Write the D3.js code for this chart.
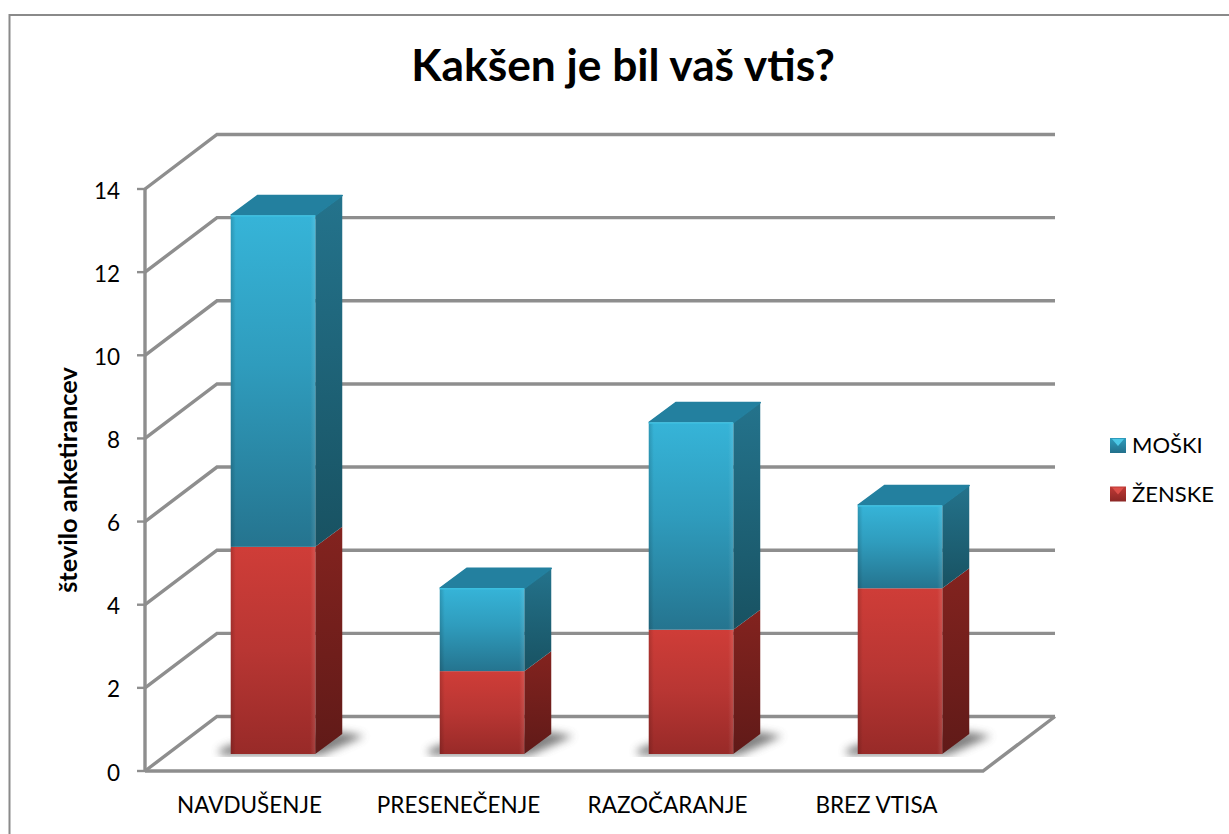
<!DOCTYPE html>
<html><head><meta charset="utf-8">
<script src="https://cdn.jsdelivr.net/npm/d3@7/dist/d3.min.js"></script>
<style>html,body{margin:0;padding:0;background:#fff;overflow:hidden}svg{display:block}text{font-family:Lato,"Open Sans",sans-serif;fill:#000}</style>
</head><body><svg id="c" width="1229" height="834"></svg>
<script>
const categories = ["NAVDUŠENJE","PRESENEČENJE","RAZOČARANJE","BREZ VTISA"];
const zenske = [5,2,3,4];
const moski = [8,2,5,2];
const yTicks = [0,2,4,6,8,10,12,14];
const seriesNames = ["MOŠKI","ŽENSKE"];

const svg=d3.select("#c");
const defs=svg.append("defs");
const x=d3.scaleBand().domain(categories).range([145,981]);
const y=d3.scaleLinear().domain([0,14]).range([771,189]);
const yBar=d3.scaleLinear().domain([0,14]).range([754,174]);
const wallDx=72, wallDy=-54.5;
const barW=84.5, barDx=27, barDy=-20, baseDx=23.5;
const barX=c=>x(c)+x.bandwidth()/2-barW/2+baseDx;

function grad(id,stops,x2=0,y2=1){
  const g=defs.append("linearGradient").attr("id",id).attr("x1",0).attr("y1",0).attr("x2",x2).attr("y2",y2);
  stops.forEach(s=>g.append("stop").attr("offset",s[0]).attr("stop-color",s[1]));
}
grad("blueF",[[0,"#36b4d8"],[0.45,"#2f9cbd"],[1,"#25748f"]]);
grad("blueS",[[0,"#24738c"],[1,"#185262"]]);
grad("redF",[[0,"#cf3d38"],[0.5,"#b83633"],[1,"#982a28"]]);
grad("redS",[[0,"#83231f"],[1,"#601a18"]]);
grad("edge",[[0,"rgba(0,0,0,.16)"],[0.06,"rgba(0,0,0,0)"],[0.94,"rgba(255,255,255,0)"],[1,"rgba(255,255,255,.12)"]],1,0);
grad("lgB",[[0,"#2f9cbd"],[1,"#23708b"]]);
grad("lgR",[[0,"#c03a36"],[1,"#8c2725"]]);
const f=defs.append("filter").attr("id","sh").attr("x","-30%").attr("y","-80%").attr("width","160%").attr("height","260%");
f.append("feGaussianBlur").attr("stdDeviation",4);

// chart frame
svg.append("rect").attr("x",9.5).attr("y",15).attr("width",1300).attr("height",900)
  .attr("fill","#fff").attr("stroke","#8a8a8a").attr("stroke-width",2);

// walls and gridlines
const g=svg.append("g").attr("fill","none").attr("stroke","#8e8e8e").attr("stroke-width",3.4);
const xL=x.range()[0], xR=983;
yTicks.forEach(t=>{
  g.append("path").attr("d",d3.line()([[xL,y(t)],[xL+wallDx,y(t)+wallDy],[xR+wallDx,y(t)+wallDy]]));
  g.append("line").attr("x1",xL-8).attr("x2",xL).attr("y1",y(t)).attr("y2",y(t)).attr("stroke-width",2.4);
});
g.append("line").attr("x1",xL).attr("x2",xL).attr("y1",y(0)).attr("y2",y(14));
g.append("path").attr("d",d3.line()([[xL,y(0)],[xR,y(0)],[xR+wallDx,y(0)+wallDy]]));

// shadows
const shadowClip=defs.append("clipPath").attr("id","shc");
shadowClip.append("rect").attr("x",0).attr("y",0).attr("width",1229).attr("height",757);
categories.forEach(c=>{
  const bx=barX(c), by=yBar(0);
  svg.append("g").attr("clip-path","url(#shc)").append("path")
    .attr("d",d3.line()([[bx-12,by-4],[bx,by-9],[bx+barW+barDx,by+barDy-2],[bx+barW+barDx+22,by+barDy+2],[bx+barW+6,by+1],[bx-10,by+1]]))
    .attr("fill","#5e5e5e").attr("opacity",.8).attr("filter","url(#sh)");
});

// bars
function segment(c,v0,v1,front,side,top,hi){
  const bx=barX(c), y0=yBar(v0), y1=yBar(v1);
  const s=svg.append("g");
  s.append("path").attr("d",d3.line()([[bx+barW,y1],[bx+barW+barDx,y1+barDy],[bx+barW+barDx,y0+barDy],[bx+barW,y0]])).attr("fill",`url(#${side})`);
  s.append("rect").attr("x",bx).attr("y",y1).attr("width",barW).attr("height",y0-y1).attr("fill",`url(#${front})`);
  s.append("rect").attr("x",bx).attr("y",y1).attr("width",barW).attr("height",y0-y1).attr("fill","url(#edge)");
  if(top){
    s.append("path").attr("d",d3.line()([[bx,y1],[bx+barDx,y1+barDy],[bx+barW+barDx,y1+barDy],[bx+barW,y1]]))
      .attr("fill",top).attr("stroke",top).attr("stroke-width",1.5).attr("stroke-linejoin","round");
    s.append("line").attr("x1",bx).attr("x2",bx+barW).attr("y1",y1+.5).attr("y2",y1+.5).attr("stroke",hi).attr("stroke-width",1.5);
  }
}
categories.forEach((c,i)=>{
  segment(c,0,zenske[i],"redF","redS",null);
  segment(c,zenske[i],zenske[i]+moski[i],"blueF","blueS","#23809f","#3bbfe0");
});

// labels
yTicks.forEach(t=>svg.append("text").attr("x",120).attr("y",y(t)+9.5).attr("text-anchor","end").attr("font-size",22.5).text(t));
categories.forEach(c=>svg.append("text").attr("x",x(c)+x.bandwidth()/2).attr("y",813).attr("text-anchor","middle").attr("font-size",22.5).text(c));
svg.append("text").attr("x",623).attr("y",81).attr("text-anchor","middle").attr("font-size",44.3).attr("font-weight",700).text("Kakšen je bil vaš vtis?");
svg.append("text").attr("transform","translate(77,480) rotate(-90)").attr("text-anchor","middle").attr("font-size",25.4).attr("font-weight",700).text("število anketirancev");

// legend
seriesNames.forEach((n,i)=>{
  const ly=438+i*48.5, s=16, lx=1110;
  svg.append("rect").attr("x",lx).attr("y",ly).attr("width",s).attr("height",s-1).attr("fill",i?"url(#lgR)":"url(#lgB)");
  svg.append("path").attr("d",d3.line()([[lx+2,ly+1],[lx+s-2,ly+1],[lx+s/2,ly+8]])).attr("fill",i?"#dc4f49":"#4cc8e6");
  svg.append("text").attr("x",1132).attr("y",ly+15).attr("font-size",22).text(n);
});
</script></body></html>
